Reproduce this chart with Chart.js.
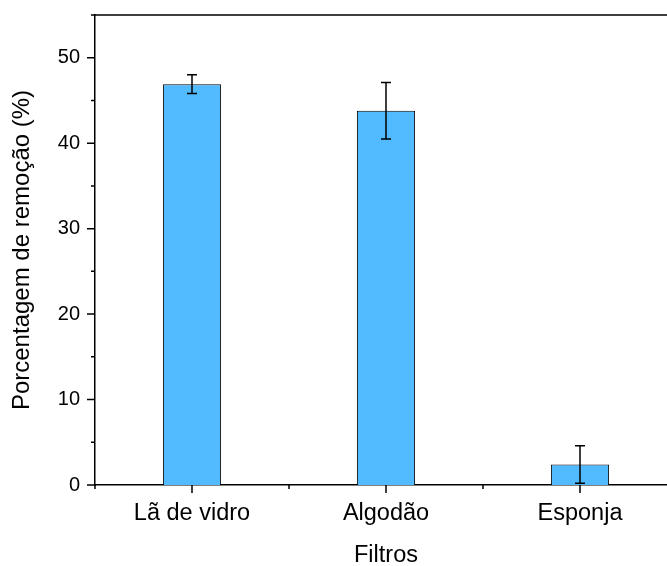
<!DOCTYPE html>
<html>
<head>
<meta charset="utf-8">
<script src="https://cdn.jsdelivr.net/npm/chart.js@4"></script>
<style>
  html, body { margin: 0; padding: 0; background: #fff; }
  #wrap { width: 667px; height: 566px; overflow: hidden; position: relative; }
  canvas { display: block; }
</style>
</head>
<body>
<div id="wrap"><canvas id="chart" width="690" height="566"></canvas></div>
<script>
const categories = ['Lã de vidro', 'Algodão', 'Esponja'];
const removal = [46.9, 43.8, 2.4];
const removalErr = [1.1, 3.3, 2.2];
const yTicks = [0, 10, 20, 30, 40, 50];

const FONT = "'Liberation Sans', Arial, sans-serif";

// draws the outward major/minor ticks, the top frame line and the error bars
const framePlugin = {
    id: 'frame',
    afterDatasetsDraw(chart) {
        const ctx = chart.ctx;
        const y = chart.scales.y;
        const meta = chart.getDatasetMeta(0);
        ctx.save();
        ctx.strokeStyle = '#000';
        ctx.lineWidth = 1.5;
        meta.data.forEach(function(bar, i) {
            const x = bar.x;
            const top = y.getPixelForValue(removal[i] + removalErr[i]);
            const bot = y.getPixelForValue(Math.max(0, removal[i] - removalErr[i]));
            ctx.beginPath();
            ctx.moveTo(x, top); ctx.lineTo(x, bot);
            ctx.moveTo(x - 5, top); ctx.lineTo(x + 5, top);
            if (removal[i] - removalErr[i] > 0) {
                ctx.moveTo(x - 5, bot); ctx.lineTo(x + 5, bot);
            }
            ctx.stroke();
        });
        ctx.restore();
    },
    afterDraw(chart) {
        const ctx = chart.ctx;
        const area = chart.chartArea;
        const y = chart.scales.y;
        const x = chart.scales.x;
        ctx.save();
        ctx.strokeStyle = '#000';
        ctx.lineWidth = 1.5;
        ctx.beginPath();
        // top frame
        ctx.moveTo(area.left - 0.75, area.top);
        ctx.lineTo(area.right, area.top);
        // y ticks, major every 10, minor every 5
        for (let v = 0; v <= 55; v += 5) {
            const py = y.getPixelForValue(v);
            const len = (v % 10 === 0) ? 8 : 4;
            ctx.moveTo(area.left - len, py);
            ctx.lineTo(area.left, py);
        }
        // x ticks: major at categories, minor at boundaries
        categories.forEach(function(c, i) {
            const px = x.getPixelForValue(i);
            ctx.moveTo(px, area.bottom);
            ctx.lineTo(px, area.bottom + 8);
        });
        for (let i = 0; i <= categories.length; i++) {
            const px = x.getPixelForValue(i - 0.5);
            ctx.moveTo(px, area.bottom);
            ctx.lineTo(px, area.bottom + 4);
        }
        ctx.stroke();
        ctx.restore();
    }
};

new Chart(document.getElementById('chart'), {
    type: 'bar',
    data: {
        labels: categories,
        datasets: [{
            data: removal,
            backgroundColor: '#52baff',
            borderColor: '#000',
            borderWidth: 1,
            barPercentage: 0.3,
            categoryPercentage: 1
        }]
    },
    options: {
        responsive: false,
        animation: false,
        devicePixelRatio: 1,
        layout: { padding: { top: 15, right: 13, left: 0, bottom: 0 } },
        plugins: {
            legend: { display: false },
            tooltip: { enabled: false }
        },
        scales: {
            x: {
                offset: true,
                grid: { display: false },
                border: { display: true, color: '#000', width: 1.5 },
                ticks: { color: '#000', padding: 6, font: { family: FONT, size: 23.5 }, maxRotation: 0 },
                title: { display: true, text: 'Filtros', color: '#000', font: { family: FONT, size: 23.5, lineHeight: 0.9 }, padding: { top: 0, bottom: 0 } },
                afterFit(scale) { scale.height = 81; }
            },
            y: {
                min: 0,
                max: 55,
                grid: { display: false },
                border: { display: true, color: '#000', width: 1.5 },
                afterBuildTicks(scale) { scale.ticks = yTicks.map(v => ({ value: v })); },
                ticks: { color: '#000', padding: 7, font: { family: FONT, size: 20 } },
                title: { display: true, text: 'Porcentagem de remoção (%)', color: '#000', font: { family: FONT, size: 24 }, padding: { top: 8, bottom: 0 } },
                afterFit(scale) {
                    scale.width = 95;
                    scale.paddingTop = 0;
                    scale.paddingBottom = 0;
                }
            }
        }
    },
    plugins: [framePlugin]
});
</script>
</body>
</html>
